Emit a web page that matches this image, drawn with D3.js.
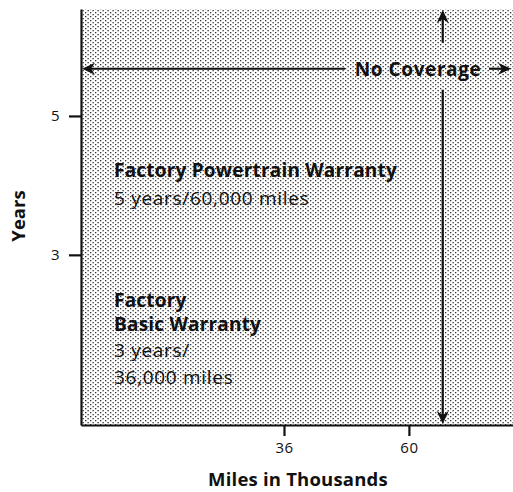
<!DOCTYPE html>
<html>
<head>
<meta charset="utf-8">
<script src="https://cdn.jsdelivr.net/npm/d3@7/dist/d3.min.js"></script>
<style>
  html, body { margin: 0; padding: 0; background: #fff; }
  svg { display: block; }
  text { font-family: "Open Sans", Lato, sans-serif; fill: #111; }
</style>
</head>
<body>
<div id="chart"></div>
<script>
// ---- data ----
const xTicks = [36, 60];
const yTicks = [3, 5];
const xDomain = [-3, 80];
const yDomain = [0.55, 6.54];
const coverageMiles = 66.5;   // boundary of coverage (thousand miles)
const coverageYears = 5.68;   // boundary of coverage (years)
const xTitle = "Miles in Thousands";
const yTitle = "Years";
const noCoverageLabel = "No Coverage";
const powertrainTitle = ["Factory Powertrain Warranty"];
const powertrainTerms = ["5 years/60,000 miles"];
const basicTitle = ["Factory", "Basic Warranty"];
const basicTerms = ["3 years/", "36,000 miles"];

// ---- layout ----
const W = 513, H = 492;
const margin = {top: 9, right: 0, bottom: 67, left: 81};
const FONT = '"Open Sans", Lato, sans-serif';

const svg = d3.select("#chart").append("svg")
  .attr("width", W).attr("height", H);

const x = d3.scaleLinear().domain(xDomain).range([margin.left, W - margin.right]);
const y = d3.scaleLinear().domain(yDomain).range([H - margin.bottom, margin.top]);

// dotted pattern
const defs = svg.append("defs");
const pat = defs.append("pattern")
  .attr("id", "dots").attr("patternUnits", "userSpaceOnUse")
  .attr("width", 5).attr("height", 4);
pat.append("rect").attr("x", 0).attr("y", 0).attr("width", 1.3).attr("height", 1.3).attr("fill", "#333");
pat.append("rect").attr("x", 2.5).attr("y", 2).attr("width", 1.3).attr("height", 1.3).attr("fill", "#333");

svg.append("rect")
  .attr("x", x(xDomain[0])).attr("y", y(yDomain[1]))
  .attr("width", x(xDomain[1]) - x(xDomain[0]))
  .attr("height", y(yDomain[0]) - y(yDomain[1]))
  .attr("fill", "url(#dots)");

// axes
const xAxis = svg.append("g")
  .attr("transform", `translate(0,${y(yDomain[0])})`)
  .call(d3.axisBottom(x).tickValues(xTicks).tickFormat(d3.format("d"))
    .tickSize(11).tickPadding(6).tickSizeOuter(0));
const yAxis = svg.append("g")
  .attr("transform", `translate(${x(xDomain[0])},0)`)
  .call(d3.axisLeft(y).tickValues(yTicks).tickFormat(d3.format("d"))
    .tickSize(12).tickPadding(9).tickSizeOuter(0));

[xAxis, yAxis].forEach(g => {
  g.select(".domain").attr("stroke", "#111").attr("stroke-width", 2.2);
  g.selectAll(".tick line").attr("stroke", "#111").attr("stroke-width", 2.2);
  g.selectAll(".tick text")
    .attr("font-family", FONT)
    .attr("font-weight", 400)
    .attr("font-size", 15)
    .attr("letter-spacing", 0.5)
    .attr("fill", "#111");
});

// axis titles
svg.append("text")
  .attr("x", 298).attr("y", 486)
  .attr("text-anchor", "middle")
  .attr("font-weight", 700).attr("font-size", 18.5).attr("letter-spacing", 0.2)
  .text(xTitle);

svg.append("text")
  .attr("transform", `translate(25,${216}) rotate(-90)`)
  .attr("text-anchor", "middle")
  .attr("font-weight", 700).attr("font-size", 18.5)
  .text(yTitle);

// arrows
function arrowHead(tx, ty, angle) {
  const L = 13, hw = 6, notch = 4;
  svg.append("path")
    .attr("transform", `translate(${tx},${ty}) rotate(${angle})`)
    .attr("d", `M0,0 L${-L},${-hw} L${-L + notch},0 L${-L},${hw} Z`)
    .attr("fill", "#111");
}

const ax = x(coverageMiles), ay = y(coverageYears);
const plotTop = y(yDomain[1]), plotBottom = y(yDomain[0]);
const plotLeft = x(xDomain[0]), plotRight = x(xDomain[1]);

// vertical arrow (with gap around the label row)
svg.append("line").attr("x1", ax).attr("x2", ax).attr("y1", plotTop + 6).attr("y2", ay - 26)
  .attr("stroke", "#111").attr("stroke-width", 2.2);
svg.append("line").attr("x1", ax).attr("x2", ax).attr("y1", ay + 21).attr("y2", plotBottom - 6)
  .attr("stroke", "#111").attr("stroke-width", 2.2);
arrowHead(ax, plotTop + 1, -90);
arrowHead(ax, plotBottom - 1, 90);

// horizontal arrow
svg.append("line").attr("x1", plotLeft + 6).attr("x2", 345).attr("y1", ay).attr("y2", ay)
  .attr("stroke", "#111").attr("stroke-width", 2.2);
svg.append("line").attr("x1", 489).attr("x2", plotRight - 6).attr("y1", ay).attr("y2", ay)
  .attr("stroke", "#111").attr("stroke-width", 2.2);
arrowHead(plotLeft + 1, ay, 180);
arrowHead(plotRight - 2, ay, 0);

svg.append("text")
  .attr("x", 418).attr("y", ay + 7)
  .attr("text-anchor", "middle")
  .attr("font-weight", 700).attr("font-size", 19).attr("letter-spacing", 0.6)
  .text(noCoverageLabel);

// annotation text blocks
function block(lines, x0, y0, weight, size, dy, ls) {
  lines.forEach((t, i) => {
    svg.append("text")
      .attr("x", x0).attr("y", y0 + i * dy)
      .attr("font-weight", weight).attr("font-size", size)
      .attr("letter-spacing", ls)
      .text(t);
  });
}
block(powertrainTitle, 114, 177, 700, 19, 24, 0.2);
block(powertrainTerms, 114, 205, 400, 19, 24, 0.7);
block(basicTitle, 114, 307, 700, 19, 24, 0.2);
block(basicTerms, 114, 357, 400, 19, 27, 0.7);
</script>
</body>
</html>
